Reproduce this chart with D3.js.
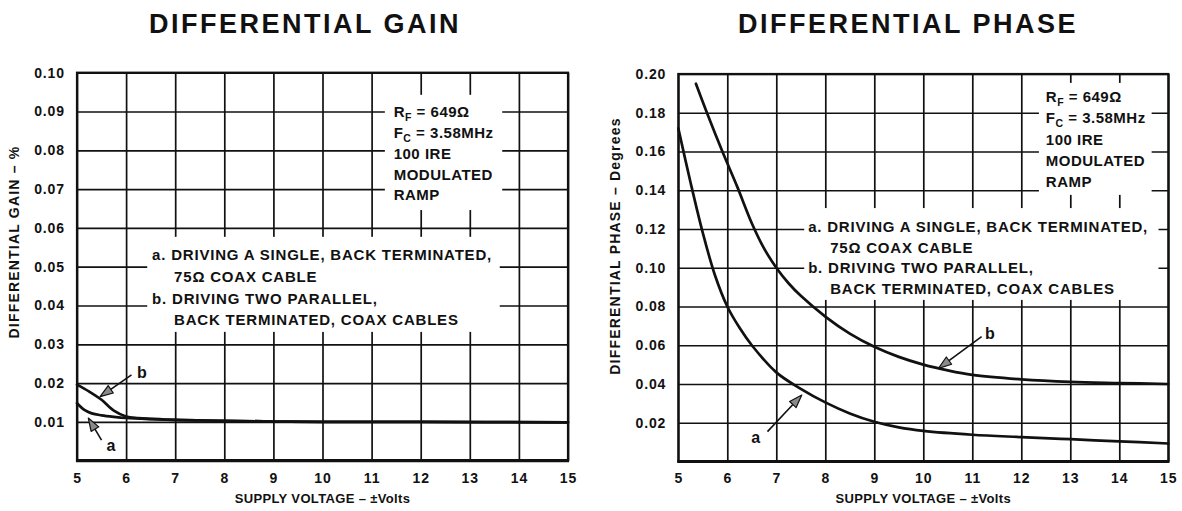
<!DOCTYPE html>
<html>
<head>
<meta charset="utf-8">
<script src="https://cdn.jsdelivr.net/npm/d3@7"></script>
<style>
  html, body { margin: 0; padding: 0; background: #fff; }
  svg { display: block; }
  text { font-family: "Liberation Sans", Arial, Helvetica, sans-serif; font-weight: bold; fill: #111; }
</style>
</head>
<body>
<svg id="chart" width="1182" height="511"></svg>
<script>
// Supply voltage axis (±Volts)
const voltTicks = [5, 6, 7, 8, 9, 10, 11, 12, 13, 14, 15];

// Differential gain (%) vs supply voltage
const gainTicks = [0.01, 0.02, 0.03, 0.04, 0.05, 0.06, 0.07, 0.08, 0.09, 0.10];
const gainTickLabels = ["0.01", "0.02", "0.03", "0.04", "0.05", "0.06", "0.07", "0.08", "0.09", "0.10"];
const gainVoltsA = [5, 5.15, 5.3, 5.5, 5.75, 6, 6.5, 7, 8, 9, 10, 12, 15];
const gainA      = [0.0148, 0.0131, 0.0122, 0.0117, 0.0113, 0.0110, 0.0107, 0.0105, 0.0103, 0.0101, 0.0100, 0.0100, 0.0099];
const gainVoltsB = [5, 5.25, 5.5, 5.75, 6, 6.25, 6.5, 7, 8, 9, 10, 12, 15];
const gainB      = [0.0196, 0.0178, 0.0157, 0.0129, 0.0114, 0.0110, 0.0108, 0.0105, 0.0103, 0.0101, 0.0100, 0.0100, 0.0099];

// Differential phase (degrees) vs supply voltage
const phaseTicks = [0.02, 0.04, 0.06, 0.08, 0.10, 0.12, 0.14, 0.16, 0.18, 0.20];
const phaseTickLabels = ["0.02", "0.04", "0.06", "0.08", "0.10", "0.12", "0.14", "0.16", "0.18", "0.20"];
const phaseVoltsA = [5, 5.25, 5.5, 5.75, 6, 6.25, 6.5, 7, 7.5, 8, 8.5, 9, 9.5, 10, 11, 12, 13, 14, 15];
const phaseA      = [0.172, 0.144, 0.118, 0.096, 0.080, 0.069, 0.060, 0.046, 0.0375, 0.0305, 0.0248, 0.0205, 0.0176, 0.0158, 0.0138, 0.0126, 0.0115, 0.0104, 0.0093];
const phaseVoltsB = [5.36, 5.6, 5.9, 6.2, 6.5, 6.75, 7, 7.25, 7.5, 8, 8.5, 9, 9.5, 10, 10.5, 11, 12, 13, 14, 15];
const phaseB      = [0.195, 0.179, 0.160, 0.142, 0.123, 0.110, 0.100, 0.092, 0.0855, 0.0748, 0.0660, 0.0592, 0.0540, 0.0500, 0.0470, 0.0447, 0.0424, 0.0411, 0.0405, 0.0400];

// Test conditions and curve legend
const conditionLines = [["R", "F", " = 649Ω"], ["F", "C", " = 3.58MHz"], ["100 IRE"], ["MODULATED"], ["RAMP"]];
const legendLines = [
  { text: "a. DRIVING A SINGLE, BACK TERMINATED,", indent: false },
  { text: "75Ω COAX CABLE", indent: true },
  { text: "b. DRIVING TWO PARALLEL,", indent: false },
  { text: "BACK TERMINATED, COAX CABLES", indent: true }
];

const panels = [
  {
    title: "DIFFERENTIAL GAIN", titleX: 305,
    yLabel: "DIFFERENTIAL GAIN – %", yLabelX: 19, yLabelY: 242,
    xLabel: "SUPPLY VOLTAGE – ±Volts",
    xRange: [77, 568], yRange: [460.7, 72.7], yMax: 0.10,
    ticks: gainTicks, tickLabels: gainTickLabels,
    curves: [{ xs: gainVoltsA, ys: gainA }, { xs: gainVoltsB, ys: gainB }],
    condBox: [11.27, 13.66, 0.0943, 0.0646], condAt: [11.45, 0.0899], condStep: 20.8,
    legBox: [6.43, 13.61, 0.0577, 0.0332], legAt: [6.53, 0.0530], legStep: 21.6,
    arrows: [
      { label: "b", lab: [6.32, 0.0227], from: [6.11, 0.0221], tip: [5.47, 0.0165] },
      { label: "a", lab: [5.69, 0.0040], from: [5.50, 0.0053], tip: [5.23, 0.0110] }
    ]
  },
  {
    title: "DIFFERENTIAL PHASE", titleX: 908,
    yLabel: "DIFFERENTIAL PHASE – Degrees", yLabelX: 620, yLabelY: 246,
    xLabel: "SUPPLY VOLTAGE – ±Volts",
    xRange: [678.3, 1168.3], yRange: [461.5, 74], yMax: 0.20,
    ticks: phaseTicks, tickLabels: phaseTickLabels,
    curves: [{ xs: phaseVoltsA, ys: phaseA }, { xs: phaseVoltsB, ys: phaseB }],
    condBox: [12.36, 14.66, 0.1954, 0.1376], condAt: [12.5, 0.1883], condStep: 21.3,
    legBox: [7.57, 14.8, 0.1308, 0.0834], legAt: [7.65, 0.1212], legStep: 20.6,
    arrows: [
      { label: "a", lab: [6.58, 0.0123], from: [6.82, 0.0154], tip: [7.52, 0.0343] },
      { label: "b", lab: [11.36, 0.0662], from: [11.19, 0.0644], tip: [10.31, 0.0481] }
    ]
  }
];

const svg = d3.select("#chart");
const ink = "#111";

panels.forEach(p => {
  const x = d3.scaleLinear().domain([5, 15]).range(p.xRange);
  const y = d3.scaleLinear().domain([0, p.yMax]).range(p.yRange);
  const g = svg.append("g");
  const left = p.xRange[0], right = p.xRange[1], top = p.yRange[1], bottom = p.yRange[0];

  // Title
  g.append("text").attr("x", p.titleX).attr("y", 33)
    .attr("text-anchor", "middle").attr("font-size", 27).attr("letter-spacing", 2.5)
    .text(p.title);

  // Grid via axis generators
  const gridX = g.append("g").attr("transform", `translate(0,${bottom})`)
    .call(d3.axisBottom(x).tickValues(voltTicks).tickSize(-(bottom - top)).tickFormat(""));
  const gridY = g.append("g").attr("transform", `translate(${left},0)`)
    .call(d3.axisLeft(y).tickValues(p.ticks).tickSize(-(right - left)).tickFormat(""));
  [gridX, gridY].forEach(a => {
    a.select(".domain").remove();
    a.selectAll("line").attr("stroke", ink).attr("stroke-width", 1.7);
  });

  // Knock-out areas for the annotation blocks
  [p.condBox, p.legBox].forEach(b => {
    g.append("rect")
      .attr("x", x(b[0])).attr("y", y(b[2]))
      .attr("width", x(b[1]) - x(b[0])).attr("height", y(b[3]) - y(b[2]))
      .attr("fill", "#fff");
  });

  // Frame
  g.append("rect").attr("x", left).attr("y", top)
    .attr("width", right - left).attr("height", bottom - top)
    .attr("fill", "none").attr("stroke", ink).attr("stroke-width", 2.2);
  g.append("line").attr("x1", left - 1).attr("x2", right + 1)
    .attr("y1", bottom).attr("y2", bottom).attr("stroke", ink).attr("stroke-width", 3.2);

  // Tick labels
  const yAxis = g.append("g").attr("transform", `translate(${left},0)`)
    .call(d3.axisLeft(y).tickValues(p.ticks).tickSize(0).tickPadding(12)
      .tickFormat((d, i) => p.tickLabels[i]));
  const xAxis = g.append("g").attr("transform", `translate(0,${bottom})`)
    .call(d3.axisBottom(x).tickValues(voltTicks).tickSize(0).tickPadding(12));
  [yAxis, xAxis].forEach(a => {
    a.select(".domain").remove();
    a.selectAll("text").attr("font-size", 14).attr("letter-spacing", 0.9)
      .attr("font-family", "'Liberation Sans', Arial, sans-serif").attr("font-weight", "bold").attr("fill", ink);
  });

  // Axis titles
  g.append("text").attr("x", (left + right) / 2).attr("y", 503)
    .attr("text-anchor", "middle").attr("font-size", 13).attr("letter-spacing", 0.35)
    .text(p.xLabel);
  g.append("text").attr("transform", `translate(${p.yLabelX},${p.yLabelY}) rotate(-90)`)
    .attr("text-anchor", "middle").attr("font-size", 14).attr("letter-spacing", 1.2)
    .text(p.yLabel);

  // Curves
  const line = d3.line().x(d => x(d[0])).y(d => y(d[1])).curve(d3.curveCatmullRom.alpha(0.5));
  p.curves.forEach(c => {
    g.append("path").datum(c.xs.map((v, i) => [v, c.ys[i]]))
      .attr("d", line).attr("fill", "none").attr("stroke", ink)
      .attr("stroke-width", 2.7).attr("stroke-linejoin", "round").attr("stroke-linecap", "round");
  });

  // Test conditions block
  const cx = x(p.condAt[0]), cy = y(p.condAt[1]);
  conditionLines.forEach((parts, i) => {
    const t = g.append("text").attr("x", cx).attr("y", cy + i * p.condStep)
      .attr("dy", "0.36em").attr("font-size", 15).attr("letter-spacing", 0.5);
    if (parts.length === 3) {
      t.append("tspan").text(parts[0]);
      t.append("tspan").attr("dy", 4).attr("font-size", 10.5).text(parts[1]);
      t.append("tspan").attr("dy", -4).text(parts[2]);
    } else {
      t.text(parts[0]);
    }
  });

  // Legend block
  const lx = x(p.legAt[0]), ly = y(p.legAt[1]);
  legendLines.forEach((l, i) => {
    g.append("text").attr("x", lx + (l.indent ? 22 : 0)).attr("y", ly + i * p.legStep)
      .attr("dy", "0.36em").attr("font-size", 15).attr("letter-spacing", 0.8)
      .text(l.text);
  });

  // Curve call-out arrows
  p.arrows.forEach(a => {
    const x0 = x(a.from[0]), y0 = y(a.from[1]), x1 = x(a.tip[0]), y1 = y(a.tip[1]);
    const ang = Math.atan2(y1 - y0, x1 - x0);
    const len = 13, half = 4.5;
    const bx = x1 - len * Math.cos(ang), by = y1 - len * Math.sin(ang);
    g.append("line").attr("x1", x0).attr("y1", y0).attr("x2", bx).attr("y2", by)
      .attr("stroke", ink).attr("stroke-width", 1.6);
    const pts = [
      [x1, y1],
      [bx + half * Math.sin(ang), by - half * Math.cos(ang)],
      [bx - half * Math.sin(ang), by + half * Math.cos(ang)]
    ];
    g.append("path").attr("d", d3.line()(pts) + "Z")
      .attr("fill", "#8a8a8a").attr("stroke", ink).attr("stroke-width", 1.2).attr("stroke-linejoin", "round");
    g.append("text").attr("x", x(a.lab[0])).attr("y", y(a.lab[1]))
      .attr("dy", "0.36em").attr("text-anchor", "middle").attr("font-size", 16)
      .text(a.label);
  });
});
</script>
</body>
</html>
